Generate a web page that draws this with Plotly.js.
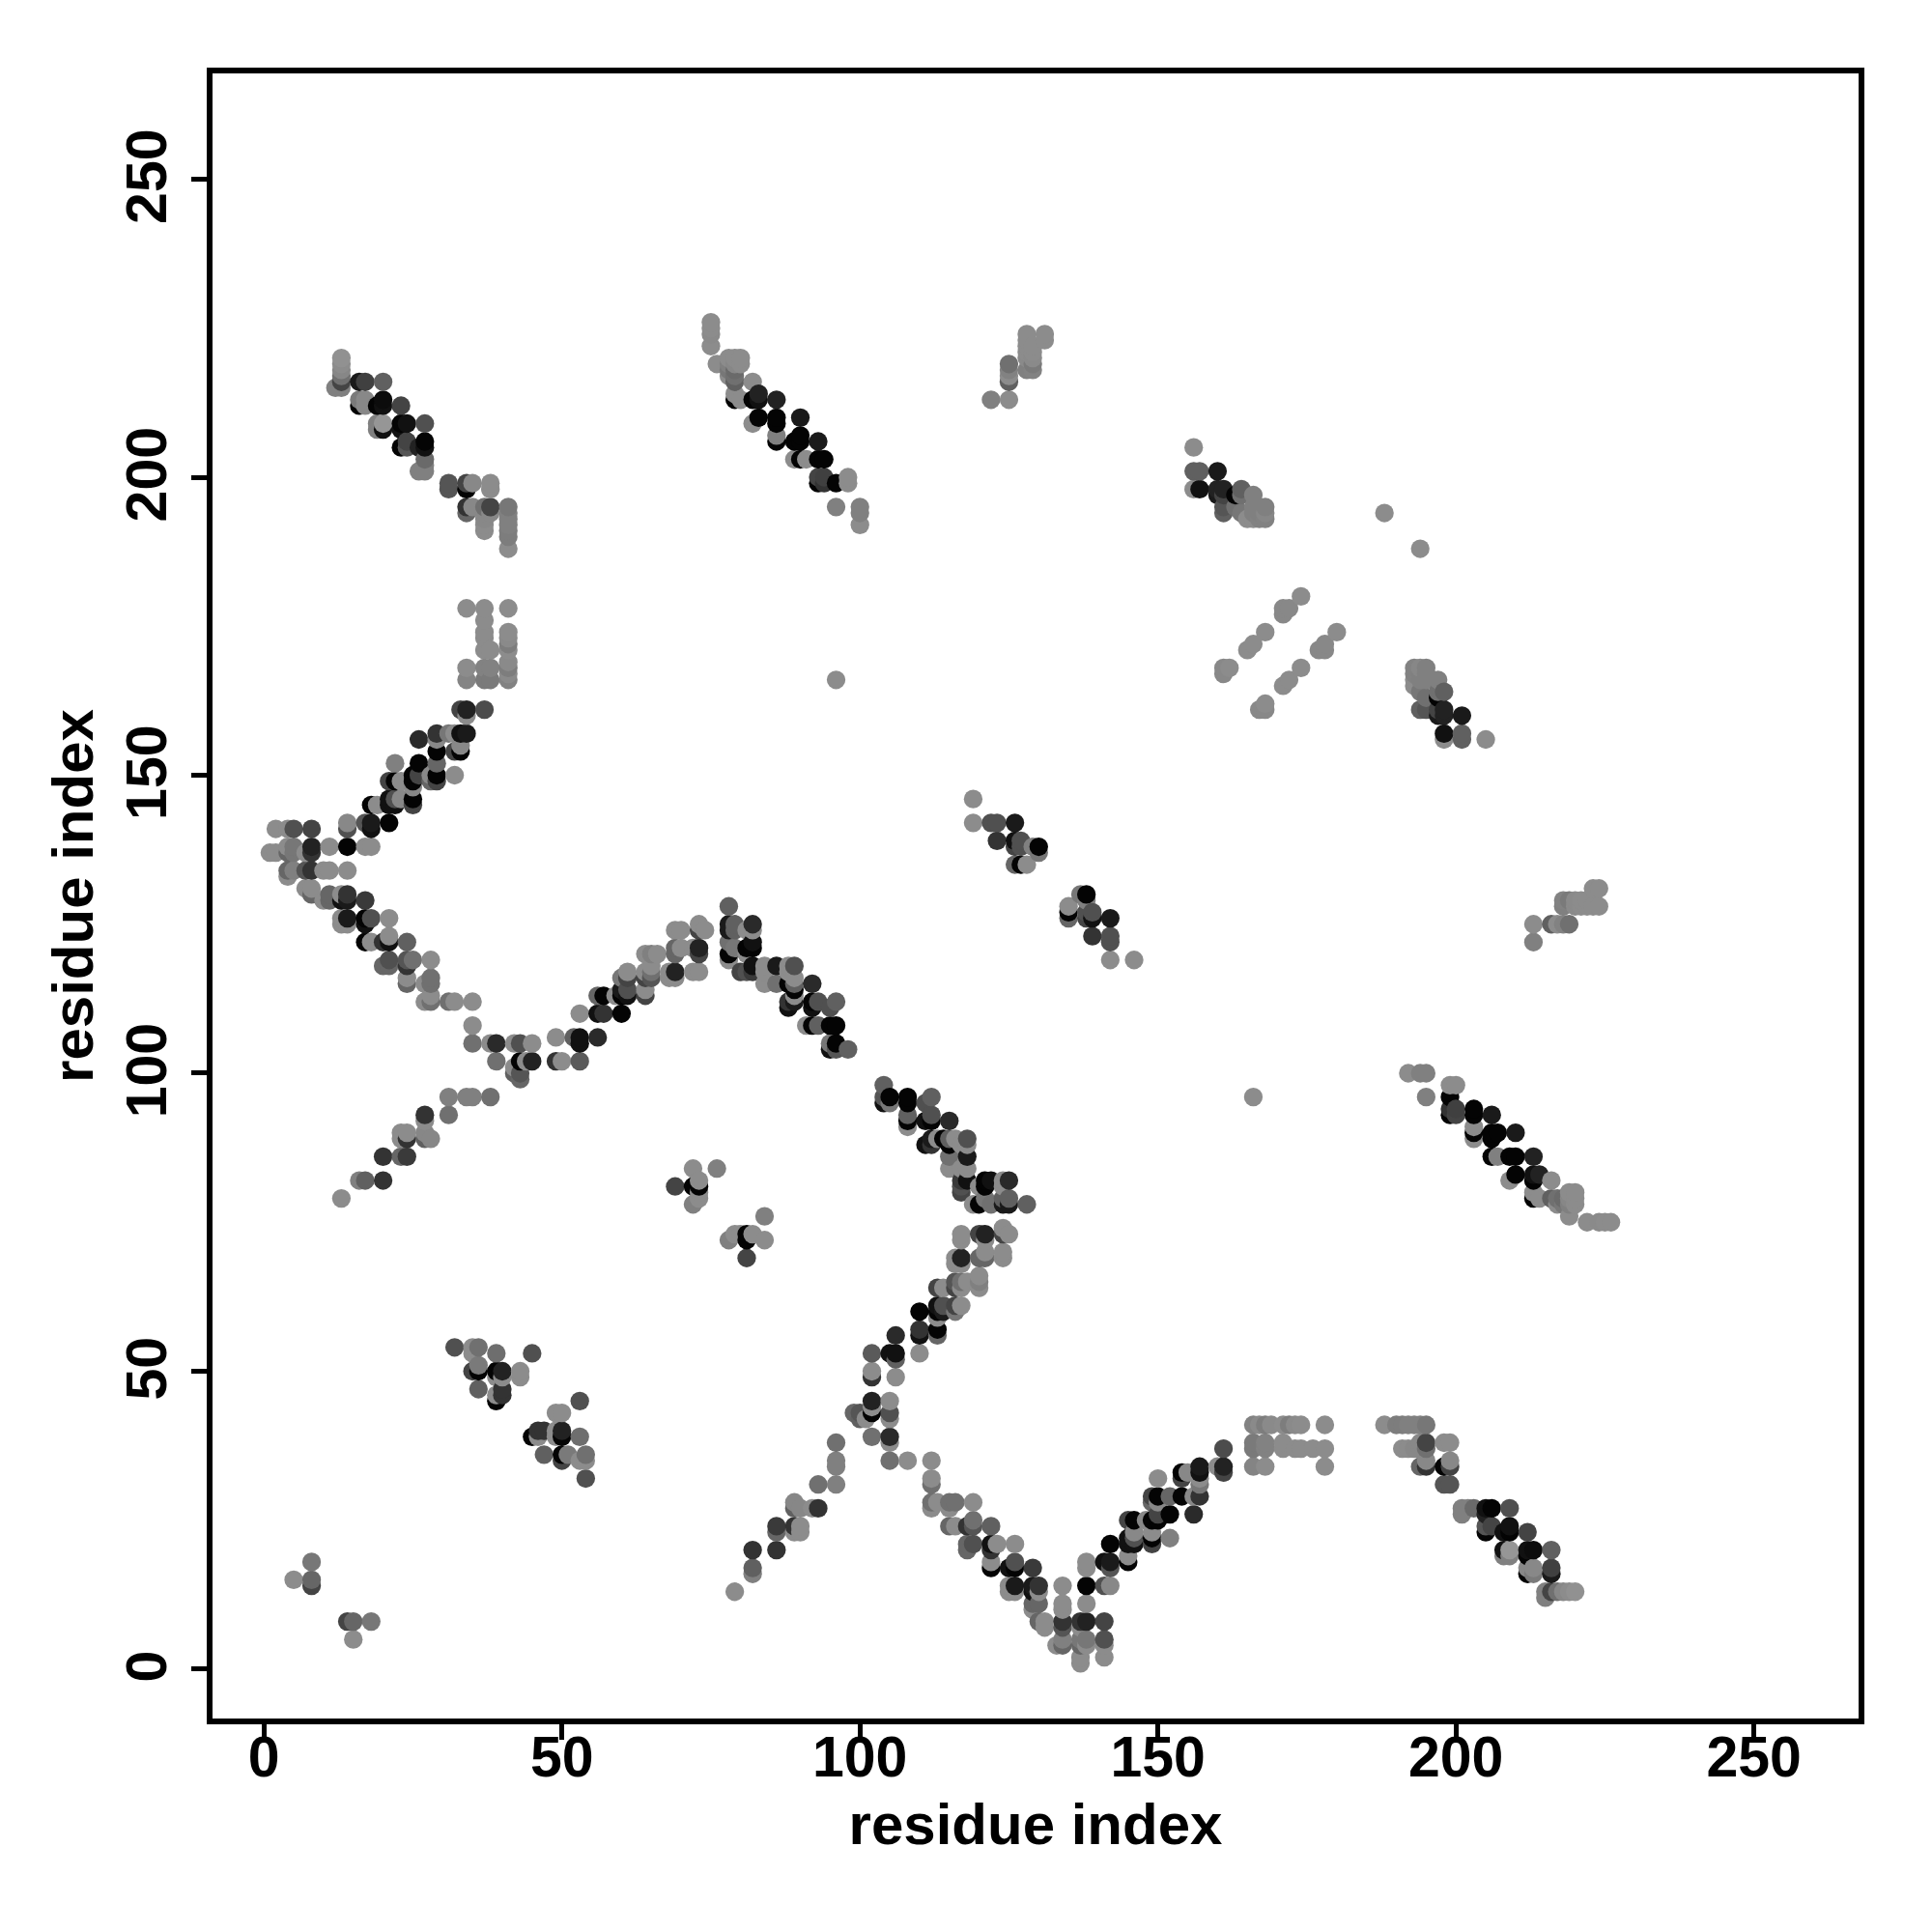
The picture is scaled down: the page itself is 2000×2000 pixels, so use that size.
<!DOCTYPE html>
<html>
<head>
<meta charset="utf-8">
<script src="https://cdn.plot.ly/plotly-3.0.1.min.js"></script>
<style>html,body{margin:0;padding:0;background:#fff}</style>
</head>
<body>
<div id="chart" style="width:2000px;height:2000px"></div>
<script>
// Contact map: each block lists residue pairs (i<j) and the grey level of the dot.
const tickValues = [0, 50, 100, 150, 200, 250];
const axisTitle = "residue index";

const terminalI = [5, 8, 8, 8];
const terminalJ = [15, 18, 15, 14];
const terminalShade = [140, 119, 102, 68];

const sheetAI = [13,13,13,13,13,12,13, 16,17,20, 16,16,17,17,19,20,20,23, 19,19,20,20,23,24,23,27, 23,24,24,27,26,27, 27,27,26,27, 31,31,34,34,35,38,38, 34,34,35,37,38,37,38,37,37,37, 41,41,41,41,41,41,41];
const sheetAJ = [220,219,218,217,216,215,215, 216,216,216, 213,212,213,212,212,213,212,212, 209,208,208,209,209,209,208,209, 205,206,205,206,205,205, 203,202,201,201, 199,198,199,198,199,199,198, 195,194,195,195,195,194,194,193,192,191, 195,194,193,192,191,190,188];
const sheetAShade = [145,140,135,112,68,128,128, 26,64,96, 122,4,136,136,4,12,17,68, 128,128,17,150,4,17,17,80, 4,68,85,4,34,17, 106,128,128,128, 85,85,68,4,136,140,140, 51,102,136,112,68,136,136,136,140,140, 119,128,128,128,125,125,140];

const columnI = [34,37,41,37,37,37,37,38,41,41,41,41,41,41,41,41,34,34,37,38,37,38];
const columnJ = [178,178,178,176,174,173,171,171,174,173,172,171,169,168,167,166,168,166,168,168,166,166];
const columnShade = [140,140,140,140,140,140,140,140,140,138,125,140,138,125,138,130,140,132,130,130,122,122];

const armI = [13,17,16,20,20,24,23,24,24,23,23,28,27,27,27,27,31,31,35,34,38];
const armJ = [79,82,82,82,86,86,86,89,90,89,90,89,90,89,92,93,93,96,96,96,96];
const armShade = [140,96,128,51,51,58,102,51,140,140,140,135,135,96,140,51,112,128,128,128,112];

const helixLowerI = [33,34,37,34, 26,29,29,31,32,33,34,33,29,32,33,32, 22,26,29, 21,22,23,25,25,26,25, 28,29,29,28, 18,19,21,21,22,22,23,25,25, 17,18,18,21,14,14];
const helixLowerJ = [161,161,161,160, 156,157,156,157,157,157,157,155,154,154,154,150, 152,152,152, 149,149,149,150,149,150,148, 150,150,149,149, 145,145,146,145,145,146,146,146,145, 142,142,141,142,142,141];
const helixLowerShade = [68,34,76,140, 42,51,136,119,140,17,26,136,4,68,4,140, 128,4,102, 68,4,140,4,4,68,136, 136,4,68,102, 4,140,17,17,17,80,136,4,68, 85,26,17,4,136,80];

const kinkI = [2,4,5,8, 1,2,4,5,4,5,7,8,8,11,14,17,18, 4,5,4,7,8,10,11,14];
const kinkJ = [141,141,141,141, 137,137,138,138,137,137,137,138,137,138,138,138,138, 134,134,133,134,134,134,134,134];
const kinkShade = [140,140,80,68, 140,140,140,119,102,119,140,34,51,140,4,140,140, 102,128,140,85,51,140,140,140];

const limbI = [7,8,8,10,11,11,13,14,13,14,17, 13,13,14,14,17,18,17,21, 17,18,20,21,21,24, 20,21,21,24,24,25,28, 24,24,27,28,28, 27,28,28,31,32,35];
const limbJ = [131,131,130,129,130,129,130,130,129,129,129, 126,125,126,125,126,126,125,126, 122,122,122,123,122,122, 118,119,118,119,118,119,119, 116,115,115,116,115, 112,113,112,112,112,112];
const limbShade = [140,140,102,140,102,102,140,51,17,26,58, 140,140,26,140,4,80,17,140, 4,140,51,140,17,96, 102,80,102,85,51,112,140, 140,102,140,112,112, 140,140,112,112,140,140];

const troughI = [35,35,38,39,42,43,45, 39,42,43,43,42,43,44,45,49,49,50,53, 52,53,53,56];
const troughJ = [108,105,105,105,105,105,105, 102,101,102,100,100,99,102,102,106,102,102,102, 106,106,105,106];
const troughShade = [140,112,140,42,140,80,140, 112,140,4,85,96,102,140,34,140,51,140,90, 96,17,17,42];

const archRiseI = [53,56,57,60, 56,57,59,60,61,60,61, 60,61,61, 64,65,64,65,64,64,65, 64,65,66,69,69,70, 68,69,69,68,72,73, 69,70,73,73,74, 73,73,72];
const archRiseJ = [110,110,110,110, 113,113,113,114,114,113,113, 116,117,116, 117,117,116,116,114,113,118, 120,120,120,121,120,121, 117,117,116,116,117,117, 124,124,125,124,124, 121,120,121];
const archRiseShade = [140,17,51,4, 102,4,140,26,80,4,17, 119,140,68, 140,112,68,85,140,68,140, 140,128,140,102,102,140, 140,34,140,140,140,140, 140,140,140,68,140, 34,68,140];

const archFallI = [78,78,79,78,78,78,79,78,81,82,82,81,82,82, 82,80,82,84,84,84,86,86,88,89,88,89, 88,89,89,89,88,88,89, 92,92,93,92,95,96, 91,92,93,95,96, 95,95,96,96,98, 81,81,79];
const archFallJ = [128,125,125,124,122,120,121,119,124,125,124,121,122,121, 118,117,117,118,117,115,118,115,118,118,117,116, 115,115,114,113,112,111,112, 115,112,112,111,111,112, 108,108,108,108,108, 105,104,105,104,104, 120,117,124];
const archFallShade = [96,26,96,26,112,4,119,140,140,42,140,4,17,4, 17,68,58,140,140,140,26,112,140,80,140,140, 4,96,4,140,51,17,26, 42,4,80,17,80,96, 140,4,96,4,4, 119,17,4,85,96, 140,80,96];

const knotI = [69,72,76,72,73,73,73,72,73];
const knotJ = [81,84,84,81,82,81,80,78,79];
const knotShade = [68,140,128,4,140,4,140,128,140];

const strandBI = [75,75,75,75,76, 78,78,78,78,79,80,79,80,79,79,79, 82,79,79,80,82,83,83,86, 82,83,86,86,90, 86,86,89,90,90,93, 89,90,91,93,94, 93,93,94,94,96,98,98, 96,100,100,100];
const strandBJ = [226,225,224,222,219, 220,219,218,217,220,220,219,219,218,217,216, 216,214,213,213,213,214,213,213, 209,210,210,209,210, 207,206,206,207,206,206, 203,203,203,203,203, 200,199,200,199,199,200,199, 195,195,194,192];
const strandBShade = [140,140,138,140,140, 140,128,119,140,140,140,135,140,106,112,96, 140,140,4,140,4,34,17,34, 140,4,4,4,26, 128,4,4,4,4,26, 140,4,140,4,4, 68,4,64,51,4,140,140, 128,128,128,140];

const capI = [125,125,125,125,122,125, 128,128,128,128,128,128,129,129,129,129,129,131,131];
const capJ = [219,218,217,216,213,213, 224,223,222,221,220,218,222,221,220,219,218,224,223];
const capShade = [112,130,140,96,128,140, 140,140,140,140,138,128,140,140,138,122,130,140,140];

const strandCI = [156,156,157,160,156,157,160,161,160,161,161,161, 163,164,163,164,164,165,166,166,166,166, 167,167,167,168,168,168];
const strandCJ = [205,201,201,201,198,198,198,198,197,197,195,194, 197,198,195,197,194,193,197,195,194,193, 195,194,193,195,194,193];
const strandCShade = [140,96,96,26,140,17,34,34,26,68,85,96, 4,96,112,112,119,140,128,128,128,140, 128,128,130,128,135,130];

const stripeI = [161,162,161,165,166,168,171,171,172,174, 96, 188];
const stripeJ = [167,168,168,171,172,174,177,178,178,180, 166, 194];
const stripeShade = [136,140,136,140,140,140,136,136,136,140, 140, 140];

const turnI = [119,119,122,123,126, 123,126,126,127,127,129,130,130,126,127,128];
const turnJ = [146,142,142,142,142, 139,139,138,139,138,138,138,137,135,135,135];
const turnShade = [140,140,80,80,26, 51,17,68,80,80,128,4,119,102,4,140];

const hairpinI = [32,35,35,36,39,45,35,36,36,39,40,39,40,43,43,36,39,39,40,40];
const hairpinJ = [54,54,53,54,53,53,50,50,51,50,50,49,49,50,49,47,46,45,47,46];
const hairpinShade = [80,140,140,112,110,80,68,4,122,4,34,140,140,140,140,96,140,4,51,51];

const blocks = [
  [terminalI, terminalJ, terminalShade],
  [sheetAI, sheetAJ, sheetAShade],
  [columnI, columnJ, columnShade],
  [armI, armJ, armShade],
  [helixLowerI, helixLowerJ, helixLowerShade],
  [kinkI, kinkJ, kinkShade],
  [limbI, limbJ, limbShade],
  [troughI, troughJ, troughShade],
  [archRiseI, archRiseJ, archRiseShade],
  [archFallI, archFallJ, archFallShade],
  [knotI, knotJ, knotShade],
  [strandBI, strandBJ, strandBShade],
  [capI, capJ, capShade],
  [strandCI, strandCJ, strandCShade],
  [stripeI, stripeJ, stripeShade],
  [turnI, turnJ, turnShade],
  [hairpinI, hairpinJ, hairpinShade]
];

// The map is symmetric: every pair is drawn at (i,j) and (j,i), low residue first.
const pts = [];
blocks.forEach(function (b) {
  b[0].forEach(function (v, k) {
    pts.push({x: v, y: b[1][k], s: b[2][k]});
    pts.push({x: b[1][k], y: v, s: b[2][k]});
  });
});
pts.sort(function (a, b) { return a.x - b.x || a.y - b.y; });

const trace = {
  type: "scatter",
  mode: "markers",
  x: pts.map(p => p.x),
  y: pts.map(p => p.y),
  marker: {
    size: 19.3,
    color: pts.map(p => "rgb(" + p.s + "," + p.s + "," + p.s + ")"),
    line: {width: 0}
  },
  hoverinfo: "x+y"
};

const tickFont = {family: "Liberation Sans, Arial, sans-serif", size: 59, color: "#000", weight: 700};
const titleFont = {family: "Liberation Sans, Arial, sans-serif", size: 60, color: "#000", weight: 700};
function axis(range, angle, standoff, labelShift) {
  return {
    range: range,
    tickmode: "array",
    tickvals: tickValues,
    ticktext: tickValues.map(String),
    tickangle: angle,
    ticks: "outside",
    ticklen: 16,
    tickwidth: 5,
    tickcolor: "#000",
    tickfont: tickFont,
    ticklabelstandoff: labelShift,
    showgrid: false,
    zeroline: false,
    showline: true,
    linewidth: 5.5,
    linecolor: "#000",
    mirror: true,
    automargin: false,
    title: {text: axisTitle, font: titleFont, standoff: standoff}
  };
}

Plotly.newPlot("chart", [trace], {
  width: 2000,
  height: 2000,
  margin: {l: 220, r: 76, t: 76, b: 221, pad: 0},
  paper_bgcolor: "#fff",
  plot_bgcolor: "#fff",
  showlegend: false,
  xaxis: axis([-8.62, 267.55], 0, 18, -33),
  yaxis: axis([-8.27, 267.75], -90, 5, 3)
}, {displayModeBar: false, responsive: false}).then(function () {
  // rotated y labels sit slightly above their ticks: recentre them
  document.querySelectorAll(".ytick text").forEach(function (t) {
    const tr = t.getAttribute("transform") || "";
    t.setAttribute("transform", "translate(0,6) " + tr);
  });
});
</script>
</body>
</html>
